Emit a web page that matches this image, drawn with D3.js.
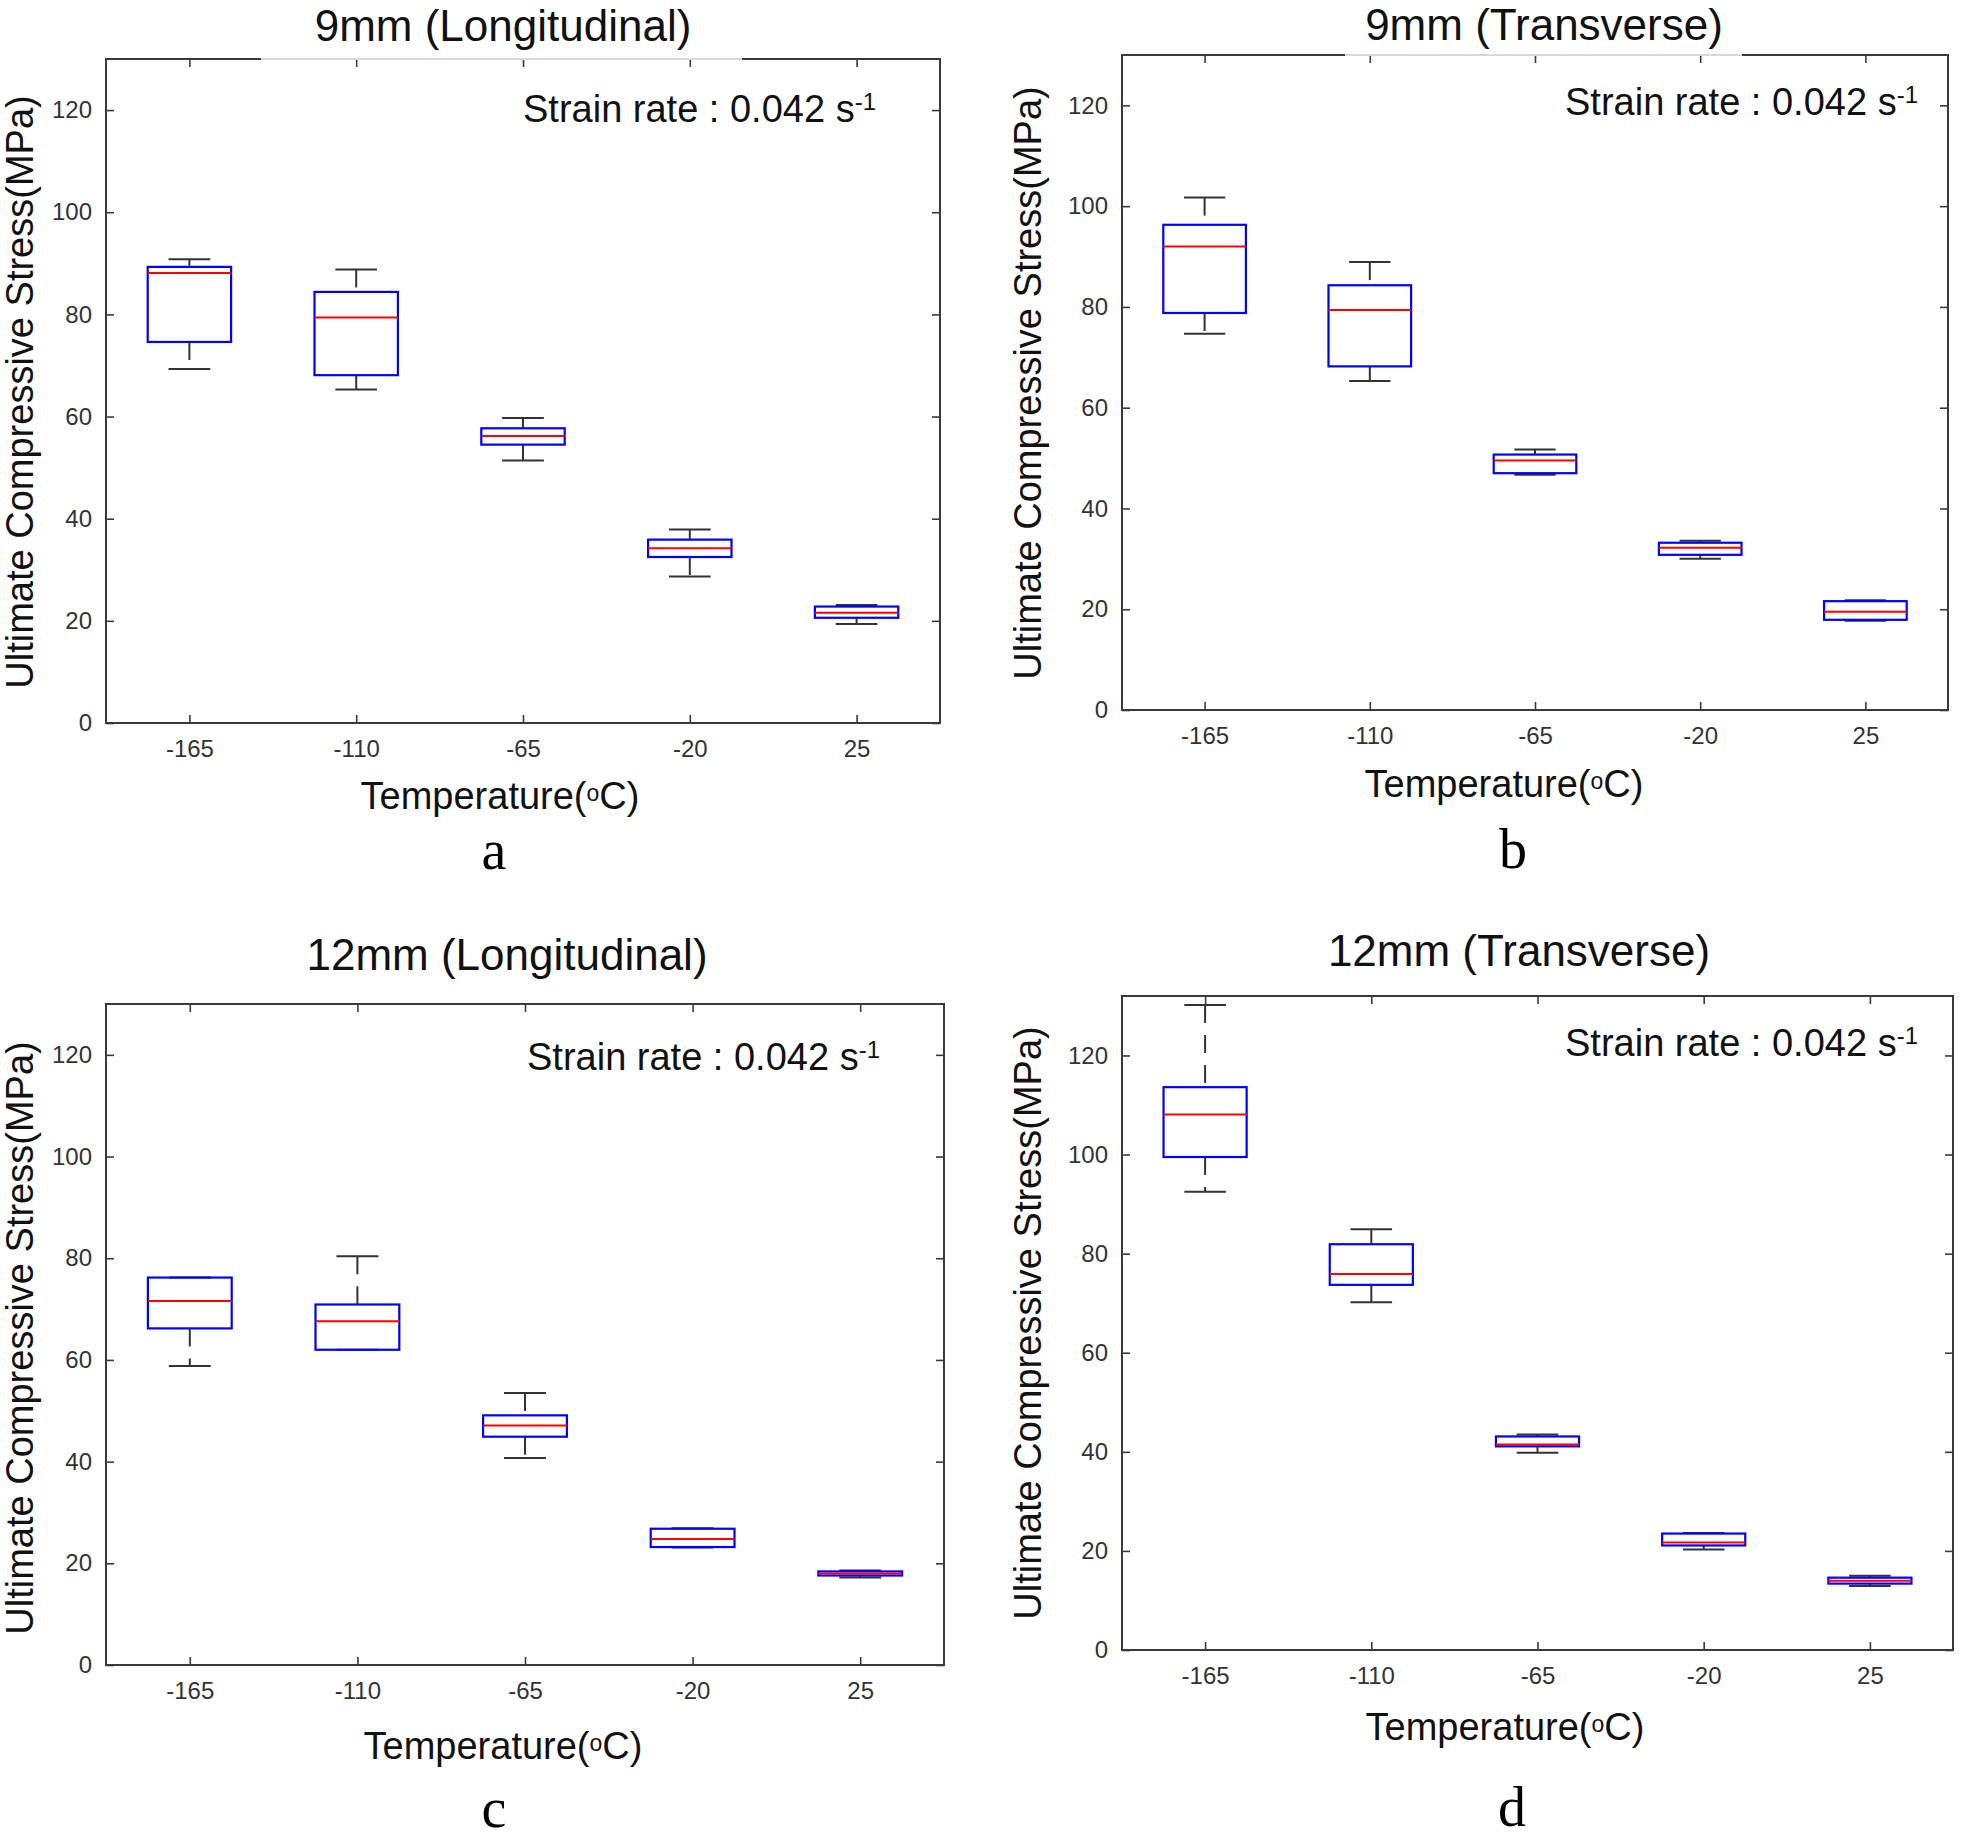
<!DOCTYPE html>
<html><head><meta charset="utf-8">
<script src="https://cdn.jsdelivr.net/npm/d3@7"></script>
<style>body{margin:0;background:#fff}svg{display:block}</style>
</head><body>
<svg id="chart" width="1961" height="1842"></svg>
<script>
// ---------- data ----------
const temperatures = ["-165", "-110", "-65", "-20", "25"];
const yTickValues = [0, 20, 40, 60, 80, 100, 120];
const panelTitles = ["9mm (Longitudinal)", "9mm (Transverse)", "12mm (Longitudinal)", "12mm (Transverse)"];
const panelLetters = ["a", "b", "c", "d"];
const yMaxValues = [130, 130, 130, 132];
const strainRateText = "Strain rate : 0.042 s";
const strainRateExp = "-1";
const xLabelText = "Temperature(";
const yLabelText = "Ultimate Compressive Stress(MPa)";

// 9mm Longitudinal
const lowA = [69.3, 65.3, 51.4, 28.7, 19.4];
const q1A  = [74.6, 68.1, 54.5, 32.5, 20.6];
const medA = [88.1, 79.4, 56.2, 34.2, 21.6];
const q3A  = [89.3, 84.4, 57.7, 35.9, 22.8];
const highA= [90.8, 88.8, 59.7, 37.9, 23.1];
// 9mm Transverse
const lowB = [74.7, 65.3, 46.7, 30.0, 17.7];
const q1B  = [78.8, 68.2, 47.0, 30.8, 17.9];
const medB = [92.0, 79.4, 49.5, 32.2, 19.5];
const q3B  = [96.3, 84.3, 50.7, 33.2, 21.6];
const highB= [101.7, 88.9, 51.7, 33.6, 21.8];
// 12mm Longitudinal
const lowC = [58.8, 62.0, 40.7, 23.1, 17.2];
const q1C  = [66.2, 62.0, 44.9, 23.2, 17.6];
const medC = [71.6, 67.6, 47.1, 24.8, 18.0];
const q3C  = [76.2, 70.9, 49.1, 26.8, 18.4];
const highC= [76.2, 80.4, 53.5, 26.9, 18.6];
// 12mm Transverse
const lowD = [92.5, 70.2, 39.8, 20.3, 12.9];
const q1D  = [99.5, 73.7, 41.1, 21.1, 13.4];
const medD = [108.1, 75.9, 41.5, 21.7, 14.0];
const q3D  = [113.6, 81.9, 43.1, 23.5, 14.6];
const highD= [130.2, 84.9, 43.5, 23.6, 15.0];

const seriesSets = [
  [lowA, q1A, medA, q3A, highA],
  [lowB, q1B, medB, q3B, highB],
  [lowC, q1C, medC, q3C, highC],
  [lowD, q1D, medD, q3D, highD]
];

// ---------- layout ----------
const layouts = [
  {L:106, R:940, T:59, B:723, title:[503,41], strain:[523,122], xl:[500,809], letter:[494,869], yl:[33,392], gap:[261,742]},
  {L:1122, R:1948, T:55, B:710, title:[1544,40], strain:[1565,115], xl:[1504,797], letter:[1513,868], yl:[1041,383], gap:[1345,1742]},
  {L:106, R:944, T:1004, B:1665, title:[507,970], strain:[527,1070], xl:[503,1759], letter:[494,1827], yl:[33,1338], gap:null},
  {L:1122, R:1953, T:996, B:1650, title:[1519,966], strain:[1565,1056], xl:[1505,1740], letter:[1512,1826], yl:[1041,1323], gap:null}
];

const svg = d3.select("#chart");
const sans = "'Liberation Sans', Arial, Helvetica, sans-serif";
const axisColor = "#3a3a3a";

layouts.forEach((lay, i) => {
  const [lo, q1, med, q3, hi] = seriesSets[i];
  const x = d3.scalePoint().domain(temperatures).range([lay.L, lay.R]).padding(0.5);
  const y = d3.scaleLinear().domain([0, yMaxValues[i]]).range([lay.B, lay.T]);
  const step = x.step();
  const g = svg.append("g");

  // axes
  const bottom = g.append("g").attr("transform", `translate(0,${lay.B})`)
    .call(d3.axisBottom(x).tickSizeInner(-8).tickSizeOuter(0).tickPadding(17));
  const left = g.append("g").attr("transform", `translate(${lay.L},0)`)
    .call(d3.axisLeft(y).tickValues(yTickValues).tickSizeInner(-8).tickSizeOuter(0).tickPadding(14));
  const top = g.append("g").attr("transform", `translate(0,${lay.T})`)
    .call(d3.axisTop(x).tickSizeInner(-8).tickSizeOuter(0).tickFormat(""));
  const right = g.append("g").attr("transform", `translate(${lay.R},0)`)
    .call(d3.axisRight(y).tickValues(yTickValues).tickSizeInner(-8).tickSizeOuter(0).tickFormat(""));
  [bottom, left, top, right].forEach(a => {
    a.select(".domain").remove();
    a.selectAll(".tick line").attr("stroke", axisColor).attr("stroke-width", 1.6);
    a.selectAll(".tick text").attr("fill", "#333").style("font-family", sans).style("font-size", "24px");
  });

  // frame
  g.append("rect").attr("x", lay.L).attr("y", lay.T)
    .attr("width", lay.R - lay.L).attr("height", lay.B - lay.T)
    .attr("fill", "none").attr("stroke", axisColor).attr("stroke-width", 2);
  if (lay.gap) {
    g.append("line").attr("x1", lay.gap[0]).attr("x2", lay.gap[1]).attr("y1", lay.T).attr("y2", lay.T)
      .attr("stroke", "#d8d8d8").attr("stroke-width", 2.2);
  }

  // boxes
  const idx = d3.range(temperatures.length);
  const bx = g.append("g");
  idx.forEach(k => {
    const cx = x(temperatures[k]);
    const wb = step * 0.5, wc = step * 0.25;
    // whiskers (dashed)
    bx.append("line").attr("x1", cx).attr("x2", cx).attr("y1", y(hi[k])).attr("y2", y(q3[k]))
      .attr("stroke", "#333").attr("stroke-width", 2).attr("stroke-dasharray", "18,12");
    bx.append("line").attr("x1", cx).attr("x2", cx).attr("y1", y(q1[k])).attr("y2", y(lo[k]))
      .attr("stroke", "#333").attr("stroke-width", 2).attr("stroke-dasharray", "18,12");
    // caps
    [hi[k], lo[k]].forEach(v => {
      bx.append("line").attr("x1", cx - wc / 2).attr("x2", cx + wc / 2).attr("y1", y(v)).attr("y2", y(v))
        .attr("stroke", "#333").attr("stroke-width", 2);
    });
    // box
    bx.append("rect").attr("x", cx - wb / 2).attr("width", wb)
      .attr("y", y(q3[k])).attr("height", y(q1[k]) - y(q3[k]))
      .attr("fill", "none").attr("stroke", "#0000ff").attr("stroke-width", 2.2);
    // median
    bx.append("line").attr("x1", cx - wb / 2).attr("x2", cx + wb / 2).attr("y1", y(med[k])).attr("y2", y(med[k]))
      .attr("stroke", "#ff0000").attr("stroke-width", 2);
  });

  // title
  g.append("text").attr("x", lay.title[0]).attr("y", lay.title[1]).attr("text-anchor", "middle")
    .style("font-family", sans).style("font-size", "44px").attr("fill", "#111").text(panelTitles[i]);

  // strain rate annotation
  const st = g.append("text").attr("x", lay.strain[0]).attr("y", lay.strain[1])
    .style("font-family", sans).style("font-size", "38px").attr("fill", "#111");
  st.append("tspan").text(strainRateText);
  st.append("tspan").attr("dy", -12).style("font-size", "24px").text(strainRateExp);

  // x label
  const xl = g.append("text").attr("x", lay.xl[0]).attr("y", lay.xl[1]).attr("text-anchor", "middle")
    .style("font-family", sans).style("font-size", "38px").attr("fill", "#111");
  xl.append("tspan").text(xLabelText);
  xl.append("tspan").attr("dy", -8).style("font-size", "23px").text("o");
  xl.append("tspan").attr("dy", 8).text("C)");

  // y label
  g.append("text").attr("transform", `translate(${lay.yl[0]},${lay.yl[1]}) rotate(-90)`)
    .attr("text-anchor", "middle").style("font-family", sans).style("font-size", "38px")
    .attr("fill", "#111").text(yLabelText);

  // panel letter
  g.append("text").attr("x", lay.letter[0]).attr("y", lay.letter[1]).attr("text-anchor", "middle")
    .style("font-family", "'Liberation Serif', 'Times New Roman', serif").style("font-size", "56px")
    .attr("fill", "#000").text(panelLetters[i]);
});
</script>
</body></html>
